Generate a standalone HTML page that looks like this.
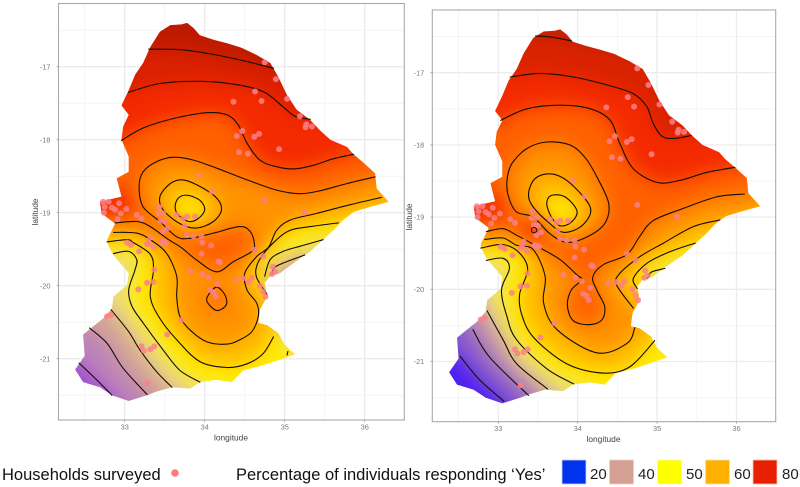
<!DOCTYPE html>
<html lang="en">
<head>
<meta charset="utf-8">
<title>Households surveyed and percentage responding Yes</title>
<style>
html,body{margin:0;padding:0;background:#fff;width:800px;height:487px;overflow:hidden}
svg{display:block;font-family:"Liberation Sans",sans-serif}
</style>
</head>
<body>
<svg id="chart" width="800" height="487" viewBox="0 0 800 487" xmlns="http://www.w3.org/2000/svg">
  <defs>
    <filter id="field-blur" filterUnits="userSpaceOnUse" x="0" y="0" width="800" height="487" color-interpolation-filters="sRGB"><feGaussianBlur stdDeviation="9"/></filter>
    <filter id="soft" filterUnits="userSpaceOnUse" x="0" y="0" width="800" height="487" color-interpolation-filters="sRGB"><feGaussianBlur stdDeviation="0.25"/></filter>
  </defs>
  <rect width="800" height="487" fill="#fff"/>
  <g id="panels" filter="url(#soft)"></g>
  <g>
    <text x="2" y="480" font-size="16.5" fill="#111">Households surveyed</text>
    <circle cx="175" cy="473" r="3.8" fill="#fa7d7d"/>
    <text x="236" y="480" font-size="16.5" fill="#111">Percentage of individuals responding ‘Yes’</text>
    <rect x="562" y="460" width="24" height="24" fill="#0033ee" stroke="#c8d4f4" stroke-width="0.8"/>
    <text x="590" y="479" font-size="15" fill="#222">20</text>
    <rect x="609.5" y="460" width="24" height="24" fill="#d4a093" stroke="#e8d4ce" stroke-width="0.8"/>
    <text x="638" y="479" font-size="15" fill="#222">40</text>
    <rect x="657.5" y="460" width="24" height="24" fill="#ffff00" stroke="#f8f8c0" stroke-width="0.8"/>
    <text x="686" y="479" font-size="15" fill="#222">50</text>
    <rect x="705.5" y="460" width="24" height="24" fill="#ffb000" stroke="#f8e4b8" stroke-width="0.8"/>
    <text x="734" y="479" font-size="15" fill="#222">60</text>
    <rect x="753" y="460" width="24" height="24" fill="#e82000" stroke="#f4c4b8" stroke-width="0.8"/>
    <text x="782" y="479" font-size="15" fill="#222">80</text>
  </g>
</svg>
<script>
// ---------- tick data ----------
const lonTicks = [33, 34, 35, 36];
const latTicks = [-17, -18, -19, -20, -21];
const lonMinor = [32.5, 33.5, 34.5, 35.5];
const latMinor = [-16.5, -17.5, -18.5, -19.5, -20.5, -21.5];

// ---------- region outline (lon, lat) ----------
const outline = [[33.78,-16.40],[33.86,-16.47],[33.94,-16.57],[34.11,-16.63],[34.28,-16.68],[34.46,-16.74],[34.65,-16.84],[34.82,-16.95],[34.92,-17.14],[35.03,-17.39],[35.15,-17.59],[35.32,-17.73],[35.44,-17.87],[35.57,-18.00],[35.78,-18.10],[35.86,-18.20],[35.99,-18.32],[36.13,-18.46],[36.15,-18.67],[36.30,-18.85],[36.07,-18.92],[35.86,-18.99],[35.73,-19.10],[35.61,-19.24],[35.48,-19.37],[35.32,-19.53],[35.11,-19.69],[34.94,-19.83],[34.82,-19.87],[34.75,-19.96],[34.78,-20.15],[34.69,-20.33],[34.67,-20.51],[34.78,-20.54],[34.92,-20.65],[35.00,-20.81],[35.13,-20.94],[34.98,-21.00],[34.73,-21.09],[34.48,-21.16],[34.34,-21.32],[34.15,-21.29],[33.94,-21.32],[33.82,-21.41],[33.59,-21.39],[33.40,-21.45],[33.28,-21.50],[33.05,-21.58],[32.84,-21.50],[32.69,-21.39],[32.48,-21.32],[32.38,-21.15],[32.50,-20.96],[32.48,-20.67],[32.57,-20.59],[32.73,-20.45],[32.84,-20.31],[32.86,-20.15],[33.03,-19.99],[33.05,-19.83],[32.85,-19.57],[32.78,-19.41],[32.78,-19.37],[32.88,-19.15],[32.71,-19.01],[32.69,-18.85],[32.96,-18.78],[32.90,-18.53],[33.05,-18.44],[33.05,-18.23],[32.96,-18.00],[32.98,-17.82],[33.05,-17.66],[32.96,-17.53],[33.05,-17.32],[33.13,-17.11],[33.23,-16.95],[33.32,-16.73],[33.44,-16.52],[33.57,-16.43],[33.71,-16.42]];

// ---------- surveyed households (lon, lat) ----------
const households = [[34.75,-16.94],[34.89,-17.17],[34.63,-17.34],[34.71,-17.47],[34.36,-17.48],[35.03,-17.44],[35.19,-17.68],[35.27,-17.79],[35.26,-17.83],[35.34,-17.82],[34.40,-17.95],[34.47,-17.88],[34.62,-17.96],[34.68,-17.92],[34.93,-18.13],[34.43,-18.17],[34.54,-18.19],[33.93,-18.49],[34.09,-18.71],[34.75,-18.83],[35.25,-19.00],[32.73,-18.85],[32.80,-18.85],[32.75,-18.92],[32.74,-19.00],[32.84,-18.93],[32.88,-18.96],[32.93,-18.87],[33.02,-18.95],[32.95,-19.01],[32.91,-19.09],[33.15,-19.03],[33.21,-19.08],[33.43,-18.92],[33.48,-19.01],[33.42,-19.01],[33.45,-19.11],[33.50,-19.12],[33.54,-19.21],[33.48,-19.25],[33.65,-19.03],[33.73,-19.08],[33.78,-19.05],[33.88,-19.05],[33.75,-19.18],[33.78,-19.30],[33.86,-19.32],[33.96,-19.32],[33.32,-19.34],[33.46,-19.40],[33.51,-19.42],[33.97,-19.41],[34.08,-19.45],[33.28,-19.43],[33.03,-19.41],[33.08,-19.44],[33.30,-19.41],[33.36,-19.47],[33.46,-19.39],[33.50,-19.40],[33.18,-19.53],[33.96,-19.56],[34.17,-19.67],[34.19,-19.68],[34.62,-19.51],[34.73,-19.60],[33.37,-19.78],[33.28,-19.96],[33.36,-19.95],[33.17,-20.05],[33.82,-19.80],[33.97,-19.84],[34.05,-19.89],[34.16,-19.98],[34.39,-19.92],[34.48,-19.90],[34.59,-19.89],[34.55,-19.95],[34.69,-20.00],[34.73,-20.08],[34.76,-20.15],[34.85,-19.74],[34.88,-19.81],[34.84,-19.84],[34.07,-20.06],[34.11,-20.09],[34.14,-20.15],[33.71,-20.47],[33.53,-20.67],[32.78,-20.42],[32.83,-20.40],[33.21,-20.83],[33.24,-20.89],[33.32,-20.87],[33.37,-20.83],[33.28,-21.33]];

// ---------- left panel contours (lon, lat), west to east ----------
const leftC1 = [[33.30,-16.76],[33.73,-16.77],[34.15,-16.84],[34.53,-16.93],[34.86,-17.02]];
const leftC2 = [[33.05,-17.35],[33.44,-17.23],[33.94,-17.20],[34.36,-17.24],[34.73,-17.34],[34.98,-17.55],[35.13,-17.68],[35.32,-17.72]];
const leftC3 = [[32.96,-18.01],[33.23,-17.84],[33.61,-17.71],[34.03,-17.63],[34.28,-17.66],[34.42,-17.80],[34.53,-18.05],[34.69,-18.28],[34.90,-18.37],[35.11,-18.40],[35.36,-18.35],[35.61,-18.26],[35.86,-18.20]];
const leftC4 = [[32.88,-19.14],[33.15,-19.12],[33.32,-19.19],[33.55,-19.37],[33.71,-19.48],[33.90,-19.65],[34.15,-19.81],[34.36,-19.67],[34.59,-19.53],[34.62,-19.42],[34.57,-19.26],[34.44,-19.19],[34.11,-19.28],[33.82,-19.35],[33.65,-19.33],[33.44,-19.12],[33.23,-18.92],[33.18,-18.64],[33.23,-18.44],[33.40,-18.30],[33.61,-18.24],[33.86,-18.28],[34.15,-18.39],[34.53,-18.55],[34.90,-18.69],[35.19,-18.74],[35.44,-18.70],[35.78,-18.60],[36.13,-18.51]];
const leftC4Loop = [[34.15,-20.02],[34.05,-20.12],[34.03,-20.22],[34.15,-20.34],[34.27,-20.26],[34.25,-20.12]];
const leftC5 = [[32.86,-19.27],[33.15,-19.28],[33.32,-19.37],[33.52,-19.55],[33.65,-19.87],[33.65,-20.15],[33.69,-20.42],[33.82,-20.61],[34.03,-20.77],[34.28,-20.80],[34.44,-20.74],[34.59,-20.63],[34.67,-20.42],[34.65,-20.24],[34.53,-20.06],[34.50,-19.83],[34.65,-19.60],[34.80,-19.47],[34.90,-19.24],[35.07,-19.10],[35.40,-19.01],[35.82,-18.89],[36.21,-18.79]];
const leftC5Ring = [[33.44,-18.78],[33.57,-18.60],[33.73,-18.55],[33.94,-18.64],[34.15,-18.80],[34.21,-18.96],[34.11,-19.12],[33.90,-19.21],[33.69,-19.15],[33.48,-18.96]];
const leftC6West = [[32.78,-19.40],[33.03,-19.37],[33.11,-19.41],[33.32,-19.57],[33.36,-19.78],[33.32,-20.15],[33.44,-20.45],[33.65,-20.74],[33.94,-21.04],[34.28,-21.12],[34.53,-21.07],[34.73,-20.93],[34.86,-20.70]];
const leftC6East = [[34.78,-20.12],[34.65,-19.89],[34.65,-19.73],[34.73,-19.57],[34.90,-19.37],[35.07,-19.24],[35.32,-19.19],[35.67,-19.14]];
const leftC6Ring = [[33.63,-18.92],[33.67,-18.80],[33.78,-18.76],[33.94,-18.83],[34.00,-18.96],[33.92,-19.08],[33.80,-19.12],[33.67,-19.03]];
const leftC7West = [[32.86,-19.56],[33.05,-19.53],[33.15,-19.64],[33.13,-19.78],[33.05,-20.06],[33.09,-20.28],[33.23,-20.51],[33.48,-20.88],[33.69,-21.16],[33.94,-21.32]];
const leftC7Tip = [[35.04,-20.90],[35.03,-20.95]];
const leftC7East = [[34.75,-19.87],[34.82,-19.64],[34.98,-19.53],[35.19,-19.46],[35.48,-19.37]];
const leftC8West = [[32.83,-20.33],[33.05,-20.63],[33.19,-20.88],[33.40,-21.18],[33.59,-21.39]];
const leftC8East = [[34.84,-19.85],[34.90,-19.73],[35.25,-19.58]];
const leftC9 = [[32.56,-20.58],[32.78,-20.79],[32.98,-21.13],[33.28,-21.49]];
const leftC10 = [[32.43,-21.06],[32.65,-21.29],[32.84,-21.50]];
const westHot = [[32.4,-18.72],[33.0,-18.68],[33.12,-19.0],[32.4,-19.08]];

// ---------- right panel contours (lon, lat), west to east ----------
const rightC1 = [[33.47,-16.49],[33.69,-16.51],[33.92,-16.56]];
const rightC2 = [[33.15,-17.06],[33.53,-17.01],[33.95,-17.06],[34.37,-17.17],[34.70,-17.29],[34.87,-17.47],[34.95,-17.70],[35.06,-17.88],[35.21,-17.91],[35.43,-17.87]];
const rightC3 = [[33.03,-17.66],[33.36,-17.50],[33.78,-17.45],[34.16,-17.50],[34.41,-17.66],[34.53,-17.98],[34.70,-18.33],[35.00,-18.52],[35.29,-18.49],[35.63,-18.38],[35.98,-18.31]];
const rightC4 = [[32.85,-19.20],[33.06,-19.16],[33.23,-19.25],[33.53,-19.43],[33.78,-19.59],[33.99,-19.80],[34.05,-19.87],[33.92,-20.01],[33.87,-20.22],[33.94,-20.43],[34.13,-20.49],[34.30,-20.43],[34.34,-20.24],[34.24,-20.01],[34.19,-19.83],[34.32,-19.66],[34.62,-19.52],[34.78,-19.27],[34.95,-19.05],[35.33,-18.88],[35.75,-18.72],[36.10,-18.68]];
const rightC4Ring = [[33.11,-18.49],[33.17,-18.26],[33.36,-18.05],[33.61,-17.96],[33.90,-18.00],[34.09,-18.17],[34.24,-18.44],[34.39,-18.81],[34.34,-19.09],[34.11,-19.28],[33.86,-19.35],[33.65,-19.23],[33.44,-19.00],[33.23,-18.93],[33.13,-18.72]];
const rightC5 = [[32.83,-19.31],[33.06,-19.29],[33.23,-19.39],[33.44,-19.45],[33.59,-19.82],[33.57,-20.19],[33.74,-20.56],[34.24,-20.88],[34.62,-20.75],[34.72,-20.53]];
const rightC5East = [[34.70,-20.26],[34.49,-19.94],[34.53,-19.78],[34.78,-19.55],[35.08,-19.36],[35.46,-19.13],[35.79,-19.04]];
const rightC5Ring = [[33.38,-18.68],[33.46,-18.47],[33.65,-18.40],[33.86,-18.49],[34.11,-18.77],[34.16,-18.95],[34.03,-19.14],[33.82,-19.21],[33.65,-19.09],[33.44,-18.86]];
const rightC6 = [[32.78,-19.43],[33.06,-19.38],[33.27,-19.50],[33.37,-19.73],[33.27,-20.06],[33.29,-20.33],[33.44,-20.66],[33.86,-21.03],[34.32,-21.16],[34.66,-21.07],[34.97,-20.71]];
const rightC6East = [[34.75,-19.99],[34.70,-19.85],[34.87,-19.64],[35.16,-19.48],[35.48,-19.36]];
const rightC6Ring = [[33.61,-18.81],[33.67,-18.70],[33.84,-18.72],[33.99,-18.91],[33.92,-19.07],[33.78,-19.12],[33.67,-19.00]];
const rightC7 = [[32.85,-19.60],[33.06,-19.57],[33.14,-19.71],[33.04,-20.01],[33.11,-20.38],[33.23,-20.70],[33.61,-21.10],[33.95,-21.31]];
const rightC7East = [[34.88,-19.85],[34.93,-19.76],[35.10,-19.71]];
const rightC8 = [[32.86,-20.30],[33.06,-20.70],[33.23,-21.03],[33.62,-21.38]];
const rightC9 = [[32.68,-20.56],[32.89,-20.94],[33.38,-21.47]];
const rightC10 = [[32.52,-20.93],[32.77,-21.26],[33.07,-21.55]];
const rightHotSpot = [[33.45,-19.02],[33.28,-19.18],[33.45,-19.34],[33.62,-19.18]];
const rightMarkedHousehold = [33.45,-19.18];

// ---------- helpers ----------
const SVGNS = 'http://www.w3.org/2000/svg';
const CAP = [[36.8,-16.1],[31.6,-16.1]];
function rev(a){return a.slice().reverse();}

function drawPanel(cfg){
  const root = document.getElementById('panels');
  const x = lon => cfg.x33 + (lon - 33) * cfg.xScale;
  const y = lat => cfg.y17 - (lat + 17) * cfg.yScale;
  const poly = a => 'M' + a.map(p => x(p[0]).toFixed(1) + ' ' + y(p[1]).toFixed(1)).join('L') + 'Z';
  const smooth = (a, closed) => {
    const n = a.length, P = i => {
      const k = closed ? (i + n) % n : Math.max(0, Math.min(n - 1, i));
      return [x(a[k][0]), y(a[k][1])];
    };
    let d = 'M' + P(0)[0].toFixed(1) + ' ' + P(0)[1].toFixed(1);
    const segs = closed ? n : n - 1;
    for (let i = 0; i < segs; i++) {
      const p0 = P(i - 1), p1 = P(i), p2 = P(i + 1), p3 = P(i + 2);
      d += 'C' + (p1[0] + (p2[0] - p0[0]) / 6).toFixed(1) + ' ' + (p1[1] + (p2[1] - p0[1]) / 6).toFixed(1) + ' '
        + (p2[0] - (p3[0] - p1[0]) / 6).toFixed(1) + ' ' + (p2[1] - (p3[1] - p1[1]) / 6).toFixed(1) + ' '
        + p2[0].toFixed(1) + ' ' + p2[1].toFixed(1);
    }
    return d + (closed ? 'Z' : '');
  };
  const make = (tag, attrs, parent) => {
    const el = document.createElementNS(SVGNS, tag);
    for (const k in attrs) el.setAttribute(k, attrs[k]);
    (parent || root).appendChild(el);
    return el;
  };

  const g = make('g', {});
  
  

  // grid
  lonMinor.forEach(v => {
    const el = make('line', {x1:x(v),x2:x(v),y1:cfg.top,y2:cfg.bottom,stroke:'#f2f2f2','stroke-width':0.8}, g);
    
    
  });
  latMinor.forEach(v => {
    const el = make('line', {x1:cfg.left,x2:cfg.right,y1:y(v),y2:y(v),stroke:'#f2f2f2','stroke-width':0.8}, g);
    
    
  });
  lonTicks.forEach(v => {
    const el = make('line', {x1:x(v),x2:x(v),y1:cfg.top,y2:cfg.bottom,stroke:'#ececec','stroke-width':1.3}, g);
    
    
  });
  latTicks.forEach(v => {
    const el = make('line', {x1:cfg.left,x2:cfg.right,y1:y(v),y2:y(v),stroke:'#ececec','stroke-width':1.3}, g);
    
    
  });

  // clip
  const clip = make('clipPath', {id:cfg.name + '-clip'}, g);
  make('path', {d:poly(outline)}, clip);

  // colour field
  const field = make('g', {'clip-path':'url(#' + cfg.name + '-clip)'}, g);
  
  
  const blurred = make('g', {filter:'url(#field-blur)'}, field);
  make('rect', {x:0,y:0,width:800,height:487,fill:cfg.base}, blurred);
  cfg.bands.forEach(b => {
    const el = make('path', {d:b.paths.map(poly).join(''),fill:b.fill,'fill-rule':'evenodd'}, blurred);
    
    
  });

  // contour lines
  const lines = make('g', {fill:'none',stroke:'#140c06','stroke-width':1.1,'stroke-linecap':'round'}, g);
  
  
  cfg.lines.forEach(a => {
    const el = make('path', {d:smooth(a, false)}, lines);
    
    
  });
  cfg.rings.forEach(a => {
    const el = make('path', {d:smooth(a, true)}, lines);
    
    
  });

  // points
  const pts = make('g', {fill:'#fb8088','fill-opacity':0.85}, g);
  
  
  households.forEach(p => {
    const el = make('circle', {cx:x(p[0]),cy:y(p[1]),r:3}, pts);
    
    
  });
  if (cfg.marked) {
    const el = make('circle', {cx:x(cfg.marked[0]),cy:y(cfg.marked[1]),r:2.7,fill:'none',stroke:'#2a1010','stroke-width':1}, g);
    
    
  }

  // panel border
  const border = make('rect', {x:cfg.left,y:cfg.top,width:cfg.right-cfg.left,height:cfg.bottom-cfg.top,fill:'none',stroke:'#aaaaaa','stroke-width':1.1}, g);
  
  

  // ticks and labels
  lonTicks.forEach(v => {
    const t = make('line', {x1:x(v),x2:x(v),y1:cfg.bottom,y2:cfg.bottom+2,stroke:'#999','stroke-width':0.7}, g);
    
    
    const el = make('text', {x:x(v),y:cfg.bottom+9.5,'text-anchor':'middle','font-size':7.4,fill:'#7a7a7a'}, g);
    el.textContent = String(v);
    
    
  });
  latTicks.forEach(v => {
    const t = make('line', {x1:cfg.left-2,x2:cfg.left,y1:y(v),y2:y(v),stroke:'#999','stroke-width':0.7}, g);
    
    
    const el = make('text', {x:cfg.left-8,y:y(v)+2.6,'text-anchor':'end','font-size':7.4,fill:'#7a7a7a'}, g);
    el.textContent = String(v);
    
    
  });
  const xt = make('text', {x:cfg.xTitleX,y:cfg.bottom+20.5,'text-anchor':'middle','font-size':8.4,fill:'#444'}, g);
  xt.textContent = 'longitude';
  
  
  const yt = make('text', {transform:'translate(' + cfg.yTitleX + ',' + cfg.yTitleY + ') rotate(-90)','text-anchor':'middle','font-size':8.4,fill:'#444'}, g);
  yt.textContent = 'latitude';
  
  
}

// ---------- left panel ----------
drawPanel({
  name:'left-map', x33:124.7, xScale:80, y17:66.7, yScale:73,
  left:58.5, right:404.3, top:3.5, bottom:420,
  xTitleX:231, yTitleX:38, yTitleY:212,
  base:'#a04ed2',
  bands:[
    {fill:'#bd82b8', paths:[[[32.1,-20.75],...leftC10,[33.1,-21.85],[36.8,-21.9],...CAP]]},
    {fill:'#d4a496', paths:[[[32.3,-20.4],...leftC9,[33.55,-21.8],[36.8,-21.9],...CAP]]},
    {fill:'#eddc7c', paths:[[[32.55,-20.0],...leftC8West,[33.85,-21.75],[36.8,-21.9],...CAP],[...leftC8East,[35.5,-19.75],[35.05,-20.15],[34.78,-20.02]]]},
    {fill:'#ffee00', paths:[[[32.3,-19.56],...leftC7West,[34.4,-21.55],[35.05,-21.45],[35.2,-21.0],...rev(leftC7Tip),[34.9,-20.3],...leftC7East,[36.1,-19.12],[36.8,-19.0],...CAP]]},
    {fill:'#ffbc00', paths:[[[32.3,-19.40],...leftC6West,[34.95,-20.4],...leftC6East,[36.3,-18.95],[36.8,-18.85],...CAP],leftC6Ring]},
    {fill:'#ff9200', paths:[[[32.3,-19.27],...leftC5,[36.8,-18.6],...CAP],leftC5Ring]},
    {fill:'#ff6000', paths:[[[32.3,-19.14],...leftC4,[36.8,-18.35],...CAP],leftC4Loop]},
    {fill:'#f42a00', paths:[[[32.3,-18.3],...leftC3,[36.5,-18.05],[36.8,-18],...CAP],westHot]},
    {fill:'#da2000', paths:[[[32.3,-17.6],...leftC2,[36,-17.8],[36.8,-17.9],...CAP]]},
    {fill:'#be1a00', paths:[[[32.3,-16.7],...leftC1,[35.6,-17.25],[36.8,-17.5],...CAP]]}
  ],
  lines:[leftC1,leftC2,leftC3,leftC4,leftC5,leftC6West,leftC6East,leftC7West,leftC7Tip,leftC7East,leftC8West,leftC8East,leftC9,leftC10],
  rings:[leftC4Loop,leftC5Ring,leftC6Ring]
});

// ---------- right panel ----------
drawPanel({
  name:'right-map', x33:498.3, xScale:79.4, y17:72.7, yScale:72.2,
  left:432.3, right:775.7, top:10, bottom:421.7,
  xTitleX:603.5, yTitleX:412, yTitleY:217,
  base:'#5020f0', marked:rightMarkedHousehold,
  bands:[
    {fill:'#8c5ccc', paths:[[[32.2,-20.6],...rightC10,[33.3,-21.85],[36.8,-21.9],...CAP]]},
    {fill:'#c494aa', paths:[[[32.4,-20.2],...rightC9,[33.6,-21.8],[36.8,-21.9],...CAP]]},
    {fill:'#ecdc80', paths:[[[32.6,-19.9],...rightC8,[33.9,-21.75],[36.8,-21.9],...CAP]]},
    {fill:'#ffee00', paths:[[[32.3,-19.60],...rightC7,[34.4,-21.55],[35.05,-21.45],[35.2,-20.9],[34.95,-20.1],...rightC7East,[36.0,-19.3],[36.8,-19.1],...CAP]]},
    {fill:'#ffbc00', paths:[[[32.3,-19.43],...rightC6,[35.05,-20.3],...rightC6East,[36.3,-19.05],[36.8,-18.95],...CAP],rightC6Ring]},
    {fill:'#ff9200', paths:[[[32.3,-19.31],...rightC5,[34.95,-20.4],...rightC5East,[36.3,-18.9],[36.8,-18.8],...CAP],rightC5Ring]},
    {fill:'#ff6000', paths:[[[32.3,-19.20],...rightC4,[36.8,-18.5],...CAP],rightC4Ring]},
    {fill:'#f42a00', paths:[[[32.3,-18.1],...rightC3,[36.6,-18.2],[36.8,-18.15],...CAP],rightHotSpot,westHot]},
    {fill:'#da2200', paths:[[[32.3,-17.2],...rightC2,[36,-17.7],[36.8,-17.8],...CAP]]},
    {fill:'#c02000', paths:[[[32.5,-16.45],...rightC1,[35.0,-16.85],[36.8,-17.2],...CAP]]}
  ],
  lines:[rightC1,rightC2,rightC3,rightC4,rightC5,rightC5East,rightC6,rightC6East,rightC7,rightC7East,rightC8,rightC9,rightC10],
  rings:[rightC4Ring,rightC5Ring,rightC6Ring]
});
</script>
</body>
</html>
